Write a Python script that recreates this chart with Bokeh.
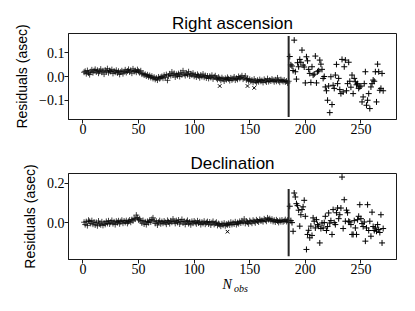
from bokeh.plotting import figure
from bokeh.layouts import column
from bokeh.models import Range1d, FixedTicker, CustomJSTickFormatter, Label
from bokeh.embed import file_html
from bokeh.resources import INLINE

# ---- data ----
ra_early = [
    0.018, 0.022, 0.012, 0.025, 0.015, 0.008, 0.020, 0.028, 0.016, 0.024,
    0.030, 0.019, 0.026, 0.014, 0.022, 0.031, 0.018, 0.024, 0.010, 0.027,
    0.020, 0.033, 0.016, 0.025, 0.021, 0.029, 0.013, 0.023, 0.018, 0.026,
    0.015, 0.022, 0.009, 0.019, 0.024, 0.012, 0.020, 0.028, 0.017, 0.023,
    0.030, 0.019, 0.026, 0.014, 0.032, 0.021, 0.025, 0.018, 0.029, 0.022,
    0.016, 0.024, 0.010, 0.013, 0.006, 0.009, 0.002, 0.007, -0.001, 0.004,
    -0.004, 0.001, -0.008, -0.003, -0.012, -0.006, -0.015, -0.002, -0.009, -0.004,
    0.000, -0.007, 0.005, -0.003, 0.008, -0.016, 0.002, 0.011, 0.004, 0.019,
    0.006, 0.013, -0.002, 0.009, 0.003, 0.012, 0.000, 0.016, 0.007, 0.024,
    0.010, 0.004, 0.015, 0.008, 0.020, 0.002, 0.011, 0.006, 0.014, 0.001,
    0.007, -0.002, 0.009, 0.003, -0.005, 0.006, 0.000, 0.010, -0.003, 0.004,
    -0.006, 0.002, -0.008, 0.001, -0.004, 0.005, -0.010, -0.002, 0.003, -0.007,
    -0.012, -0.003, -0.009, -0.016, -0.005, -0.011, -0.019, -0.008, -0.013, -0.004,
    -0.010, -0.017, -0.006, -0.014, -0.009, -0.002, -0.015, -0.007, -0.012, 0.000,
    -0.008, -0.004, 0.003, -0.011, -0.006, 0.002, -0.014, -0.009, -0.018, -0.012,
    -0.020, -0.015, -0.024, -0.011, -0.019, -0.026, -0.016, -0.022, -0.013, -0.020,
    -0.017, -0.025, -0.012, -0.018, -0.023, -0.009, -0.021, -0.015, -0.019, -0.011,
    -0.016, -0.022, -0.014, -0.020, -0.006, -0.018, -0.024, -0.013, -0.017, -0.021,
    -0.015, -0.023, -0.019, -0.027, -0.020,
]
ra_late = [
    0.084, 0.049, 0.044, 0.025, 0.153, 0.020, -0.011, 0.058, 0.041, 0.072,
    0.060, 0.111, 0.048, 0.040, -0.027, 0.083, 0.066, 0.030, 0.013, -0.025,
    0.041, 0.006, 0.010, 0.086, -0.027, 0.020, 0.024, 0.069, 0.052, 0.030,
    -0.008, 0.000, -0.044, -0.060, -0.100, -0.040, -0.152, -0.001, -0.118, -0.037,
    -0.050, 0.006, 0.051, -0.030, -0.008, -0.055, -0.072, 0.072, -0.065, 0.041,
    0.069, -0.060, -0.030, 0.060, -0.020, -0.045, 0.006, -0.072, -0.008, -0.022,
    -0.035, -0.030, -0.050, -0.044, -0.040, -0.107, -0.086, -0.030, 0.020, -0.121,
    -0.100, -0.072, -0.135, -0.044, -0.030, -0.015, -0.020, 0.020, -0.107, 0.052,
    0.020, -0.058, -0.050, 0.013, -0.060,
]
dec_early = [
    0.002, -0.010, 0.005, -0.015, 0.012, 0.006, -0.004, 0.010, -0.008, 0.003,
    -0.012, 0.001, -0.016, 0.008, -0.006, -0.011, 0.004, -0.014, -0.002, -0.009,
    0.006, -0.004, 0.009, -0.007, 0.002, 0.011, -0.005, 0.004, -0.010, 0.007,
    0.000, 0.009, -0.006, 0.005, 0.012, -0.003, 0.008, 0.001, 0.010, -0.004,
    0.006, 0.013, 0.002, 0.015, 0.009, 0.022, 0.018, 0.038, 0.025, 0.014,
    0.019, 0.008, -0.002, 0.011, -0.007, 0.004, -0.010, 0.006, 0.000, 0.012,
    0.003, 0.016, 0.024, 0.009, -0.004, 0.007, -0.012, 0.002, 0.010, -0.006,
    0.005, -0.003, 0.008, 0.001, -0.008, 0.011, 0.004, -0.005, 0.009, 0.002,
    0.018, 0.006, -0.004, 0.010, 0.001, 0.013, -0.007, 0.005, 0.016, -0.002,
    0.007, -0.009, 0.004, 0.011, -0.005, 0.003, -0.011, 0.006, -0.003, 0.008,
    0.001, -0.006, 0.009, -0.002, 0.004, -0.010, 0.002, -0.004, 0.007, -0.008,
    0.000, 0.005, -0.007, 0.003, -0.012, -0.001, 0.006, -0.009, -0.003, 0.002,
    -0.014, -0.005, -0.010, -0.018, -0.006, -0.013, -0.003, -0.016, -0.008, -0.011,
    -0.004, -0.012, 0.002, -0.009, -0.001, -0.007, 0.004, -0.010, 0.000, -0.005,
    0.006, -0.002, 0.009, 0.001, 0.018, -0.004, 0.007, 0.002, -0.006, 0.010,
    0.004, -0.003, 0.012, 0.006, -0.001, 0.014, 0.008, 0.003, 0.016, 0.009,
    0.011, 0.005, 0.019, 0.013, 0.007, 0.024, 0.015, 0.020, 0.010, 0.017,
    0.006, 0.012, 0.003, 0.014, 0.008, 0.001, 0.011, 0.005, 0.013, 0.004,
    0.009, 0.015, 0.006, 0.012, 0.002,
]
dec_late = [
    0.083, 0.010, 0.000, -0.044, 0.150, 0.130, 0.096, 0.086, 0.063, -0.018,
    0.040, 0.066, 0.080, 0.113, 0.032, -0.136, -0.060, -0.039, -0.077, -0.018,
    -0.065, 0.024, 0.007, -0.027, 0.015, -0.010, -0.018, -0.103, -0.030, -0.002,
    -0.027, 0.000, 0.032, -0.040, -0.020, 0.049, -0.002, 0.010, -0.060, 0.066,
    0.000, -0.010, 0.050, 0.074, 0.020, 0.040, 0.074, 0.231, -0.030, 0.116,
    0.007, 0.063, 0.050, 0.007, 0.003, -0.010, -0.060, -0.060, 0.010, -0.027,
    -0.060, 0.015, 0.032, 0.091, 0.020, -0.005, -0.020, 0.003, -0.094, -0.027,
    0.091, -0.040, 0.007, -0.069, 0.053, -0.020, -0.040, -0.027, -0.044, -0.010,
    -0.035, -0.050, 0.040, -0.103, -0.030,
]
ra_rejected_n = [123, 148, 154]
ra_rejected_v = [-0.040, -0.040, -0.048]
dec_rejected_n = [130]
dec_rejected_v = [-0.046]
split_n = 185
split_lo, split_hi = -0.17, 0.17
x_ticks = [0, 50, 100, 150, 200, 250]
ra_ticks = [-0.1, 0.0, 0.1]
dec_ticks = [0.0, 0.2]
x_label_main = "N"
x_label_sub = "obs"

SANS = "Liberation Sans"
SERIF = "Liberation Serif"
INK = "#1a1a1a"
XR = (-13, 282)

yfmt = CustomJSTickFormatter(code="""
const s = Math.abs(tick).toFixed(1);
return tick < -1e-9 ? "\u2212" + s : s;
""")


def panel(title, early, late, rej_n, rej_v, yr, yticks, height, top, bottom):
    p = figure(width=408, height=height, output_backend="svg", toolbar_location=None,
               x_range=Range1d(*XR), y_range=Range1d(*yr),
               min_border_left=68, min_border_right=12,
               min_border_top=top, min_border_bottom=bottom,
               title=title)
    p.title.text_font = SANS
    p.title.text_font_size = "17px"
    p.title.text_font_style = "normal"
    p.title.align = "center"
    p.title.text_color = "black"
    p.title.standoff = 2
    p.grid.visible = False
    p.outline_line_color = INK
    p.outline_line_width = 1
    for ax in (p.xaxis[0], p.yaxis[0]):
        ax.axis_line_color = INK
        ax.major_tick_line_color = INK
        ax.minor_tick_line_color = None
        ax.major_tick_out = 4
        ax.major_tick_in = 0
        ax.major_label_standoff = 0
        ax.major_label_text_font = SERIF
        ax.major_label_text_font_size = "14px"
        ax.major_label_text_color = "black"
    p.xaxis.ticker = FixedTicker(ticks=x_ticks)
    p.yaxis.ticker = FixedTicker(ticks=yticks)
    p.yaxis.formatter = yfmt
    p.yaxis.axis_label = "Residuals (asec)"
    p.yaxis.axis_label_text_font = SANS
    p.yaxis.axis_label_text_font_size = "14px"
    p.yaxis.axis_label_text_font_style = "normal"
    p.yaxis.axis_label_text_color = "black"
    p.yaxis.axis_label_standoff = 6

    n_early = list(range(1, len(early) + 1))
    n_late = list(range(len(early) + 1, len(early) + len(late) + 1))
    p.scatter(n_early, early, marker="cross", size=6, line_color="black", line_width=1, line_alpha=0.75)
    p.scatter(n_late, late, marker="cross", size=6, line_color="black", line_width=1)
    p.scatter(rej_n, rej_v, marker="x", size=5, line_color="black", line_width=1)
    p.segment(x0=[split_n], y0=[split_lo], x1=[split_n], y1=[split_hi], line_color="#262626", line_width=2)
    return p


p1 = panel("Right ascension", ra_early, ra_late, ra_rejected_n, ra_rejected_v,
           (-0.181, 0.181), ra_ticks, 150, 33, 31)
p2 = panel("Declination", dec_early, dec_late, dec_rejected_n, dec_rejected_v,
           (-0.187, 0.249), dec_ticks, 160, 22, 51)

# x-axis title N_obs, placed in the panel below the lower plot (not clipped to the frame)
p2.add_layout(Label(x=125.5, y=-0.312, text=x_label_main, text_font=SERIF, text_font_size="14px",
                    text_font_style="italic", text_color="black", text_baseline="alphabetic"), "below")
p2.add_layout(Label(x=135.8, y=-0.332, text=x_label_sub, text_font=SERIF, text_font_size="10px",
                    text_font_style="italic", text_color="black", text_baseline="alphabetic"), "below")

layout = column(p1, p2)
open("out.html", "w").write(file_html(layout, INLINE))
